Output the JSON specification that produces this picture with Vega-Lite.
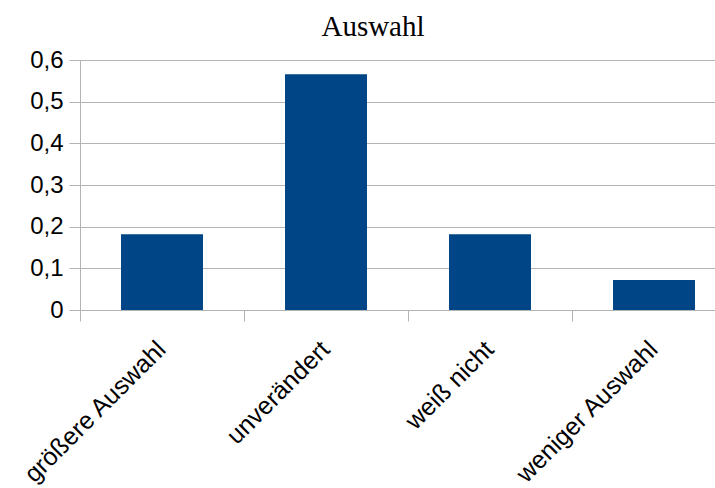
{
  "$schema": "https://vega.github.io/schema/vega-lite/v6.json",
  "autosize": {"type": "none"},
  "padding": {"left": 80, "top": 60, "right": 0, "bottom": 178},
  "width": 656,
  "height": 250,
  "background": "white",
  "title": {
    "text": "Auswahl",
    "font": "Liberation Serif",
    "fontSize": 29,
    "fontWeight": "normal",
    "color": "#000000",
    "anchor": "middle",
    "dx": -35,
    "offset": 6
  },
  "data": {
    "values": [
      {"Kategorie": "größere Auswahl", "Wert": 0.182},
      {"Kategorie": "unverändert", "Wert": 0.566},
      {"Kategorie": "weiß nicht", "Wert": 0.182},
      {"Kategorie": "weniger Auswahl", "Wert": 0.072}
    ]
  },
  "config": {
    "view": {"stroke": null},
    "axis": {
      "labelFont": "Liberation Sans",
      "labelColor": "#000000",
      "gridColor": "#b3b3b3",
      "domainColor": "#b3b3b3",
      "tickColor": "#b3b3b3",
      "gridOpacity": 1,
      "domainWidth": 1,
      "tickWidth": 1
    }
  },
  "mark": {"type": "bar", "color": "#004586"},
  "encoding": {
    "x": {
      "field": "Kategorie",
      "type": "nominal",
      "sort": null,
      "scale": {"paddingInner": 0.5, "paddingOuter": 0.25},
      "axis": {
        "title": null,
        "labelAngle": -45,
        "labelAlign": "right",
        "labelBaseline": "middle",
        "labelFontSize": 25,
        "labelPadding": 24,
        "labelOffset": 81,
        "tickSize": 11,
        "tickOffset": -82,
        "labelOverlap": false,
        "labelLimit": 0
      }
    },
    "y": {
      "field": "Wert",
      "type": "quantitative",
      "scale": {"domain": [0, 0.6], "nice": false},
      "axis": {
        "title": null,
        "values": [0, 0.1, 0.2, 0.3, 0.4, 0.5, 0.6],
        "labelExpr": "datum.value == 0 ? '0' : replace(format(datum.value, '.1f'), '.', ',')",
        "labelFontSize": 24,
        "labelPadding": 6,
        "tickSize": 11,
        "grid": true
      }
    }
  }
}
